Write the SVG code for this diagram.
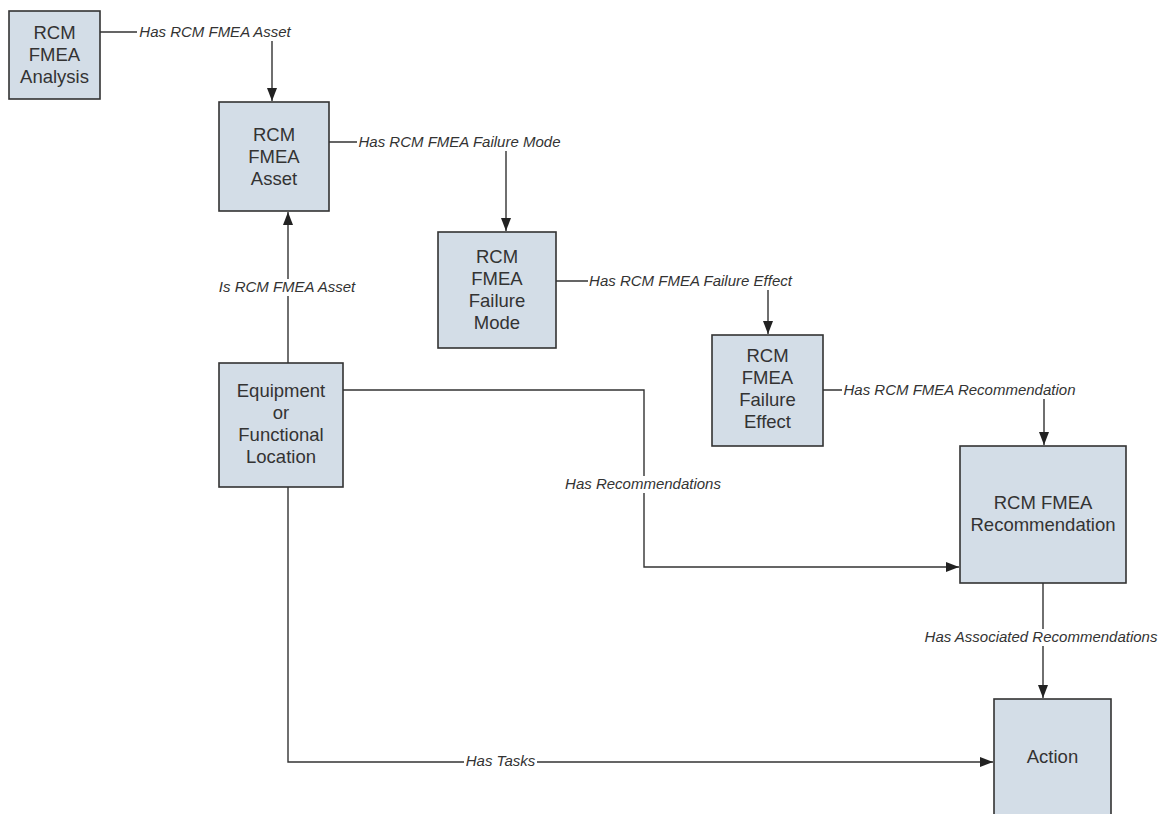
<svg xmlns="http://www.w3.org/2000/svg" width="1162" height="814" viewBox="0 0 1162 814">
<defs>
<style>
.node rect{fill:#d3dde7;stroke:#333;stroke-width:1.6}
.node text{font-family:"Liberation Sans",Arial,sans-serif;font-size:18.5px;fill:#333;text-anchor:middle}
.edge{fill:none;stroke:#333;stroke-width:1.4}
.lbg{fill:#fff}
.lbl{font-family:"Liberation Sans",Arial,sans-serif;font-size:15px;font-style:italic;fill:#333;text-anchor:middle}
</style>
<marker id="arr" markerUnits="userSpaceOnUse" markerWidth="14" markerHeight="14" viewBox="0 0 14 14" refX="13" refY="7" orient="auto">
<path d="M0,2 L13,7 L0,12 Z" fill="#222"/>
</marker>
</defs>
<rect width="1162" height="814" fill="#fff"/>
<g id="connectors">
<path class="edge" d="M100,32 H272 V101" marker-end="url(#arr)"/>
<path class="edge" d="M329,142 H506 V231" marker-end="url(#arr)"/>
<path class="edge" d="M556,281 H768 V334" marker-end="url(#arr)"/>
<path class="edge" d="M823,390 H1044 V445" marker-end="url(#arr)"/>
<path class="edge" d="M288,363 V212" marker-end="url(#arr)"/>
<path class="edge" d="M343,390 H644 V567 H959" marker-end="url(#arr)"/>
<path class="edge" d="M288,487 V762 H993" marker-end="url(#arr)"/>
<path class="edge" d="M1043,583 V698" marker-end="url(#arr)"/>
<rect class="lbg" x="137" y="24" width="156" height="17"/>
<text class="lbl" x="215" y="37">Has RCM FMEA Asset</text>
<rect class="lbg" x="357" y="134" width="205" height="17"/>
<text class="lbl" x="459.5" y="147">Has RCM FMEA Failure Mode</text>
<rect class="lbg" x="588" y="273" width="205" height="17"/>
<text class="lbl" x="690.5" y="286">Has RCM FMEA Failure Effect</text>
<rect class="lbg" x="842" y="382" width="235" height="17"/>
<text class="lbl" x="959.5" y="395">Has RCM FMEA Recommendation</text>
<rect class="lbg" x="217" y="279" width="140" height="17"/>
<text class="lbl" x="287" y="292">Is RCM FMEA Asset</text>
<rect class="lbg" x="562" y="476" width="161" height="17"/>
<text class="lbl" x="643" y="489">Has Recommendations</text>
<rect class="lbg" x="464" y="753" width="73" height="17"/>
<text class="lbl" x="500.5" y="766">Has Tasks</text>
<rect class="lbg" x="922" y="629" width="238" height="17"/>
<text class="lbl" x="1041" y="642">Has Associated Recommendations</text>
</g>
<g id="n-analysis" class="node">
<rect x="9" y="11" width="91" height="88"/>
<text x="54.5" y="39">RCM</text>
<text x="54.5" y="61">FMEA</text>
<text x="54.5" y="83">Analysis</text>
</g>
<g id="n-asset" class="node">
<rect x="219" y="102" width="110" height="109"/>
<text x="274" y="140.5">RCM</text>
<text x="274" y="162.5">FMEA</text>
<text x="274" y="184.5">Asset</text>
</g>
<g id="n-failuremode" class="node">
<rect x="438" y="232" width="118" height="116"/>
<text x="497" y="263">RCM</text>
<text x="497" y="285">FMEA</text>
<text x="497" y="307">Failure</text>
<text x="497" y="329">Mode</text>
</g>
<g id="n-failureeffect" class="node">
<rect x="712" y="335" width="111" height="111"/>
<text x="767.5" y="362">RCM</text>
<text x="767.5" y="384">FMEA</text>
<text x="767.5" y="406">Failure</text>
<text x="767.5" y="428">Effect</text>
</g>
<g id="n-recommendation" class="node">
<rect x="960" y="446" width="166" height="137"/>
<text x="1043" y="509">RCM FMEA</text>
<text x="1043" y="531">Recommendation</text>
</g>
<g id="n-equipment" class="node">
<rect x="219" y="363" width="124" height="124"/>
<text x="281" y="397">Equipment</text>
<text x="281" y="419">or</text>
<text x="281" y="441">Functional</text>
<text x="281" y="463">Location</text>
</g>
<g id="n-action" class="node">
<rect x="994" y="699" width="117" height="125"/>
<text x="1052.5" y="763">Action</text>
</g>
</svg>
